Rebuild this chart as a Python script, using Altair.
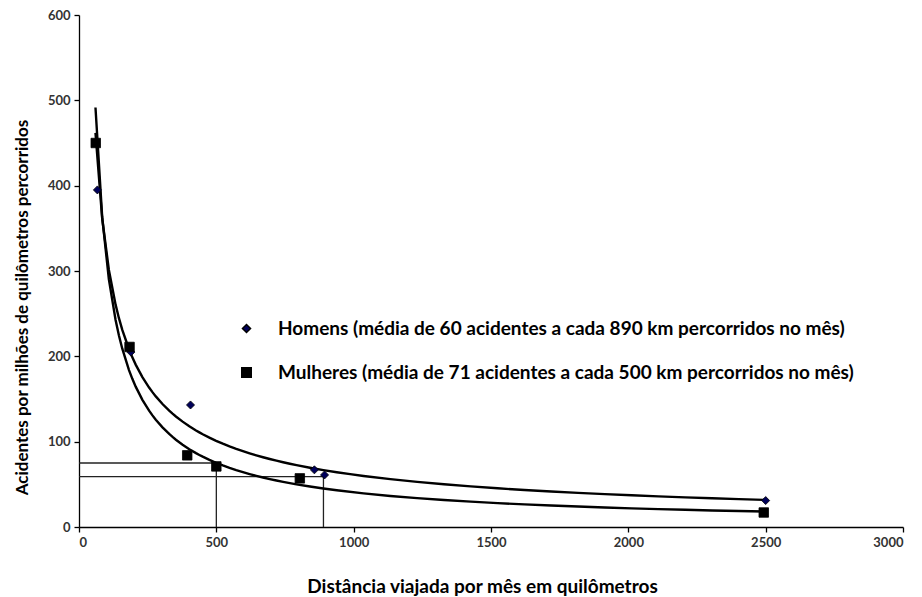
import altair as alt
import pandas as pd

# Data
homens_label = "Homens (média de 60 acidentes a cada 890 km percorridos no mês)"
mulheres_label = "Mulheres (média de 71 acidentes a cada 500 km percorridos no mês)"

homens_x = [67, 189, 406, 857, 894, 2500]
homens_y = [395, 205, 143, 67, 61, 31]
mulheres_x = [61, 184, 394, 500, 804, 2493]
mulheres_y = [450, 211, 84, 71, 57, 17]

# reference lines (horizontal and vertical guides)
h_y = [75, 59]
h_x2 = [500, 890]
v_x = [500, 890]
v_y2 = [71, 60]

x_ticks = [0, 500, 1000, 1500, 2000, 2500, 3000]
y_ticks = [0, 100, 200, 300, 400, 500, 600]

series = [homens_label, mulheres_label]

df = pd.concat([
    pd.DataFrame({"x": homens_x, "y": homens_y, "s": homens_label}),
    pd.DataFrame({"x": mulheres_x, "y": mulheres_y, "s": mulheres_label}),
])
hl = pd.DataFrame({"y": h_y, "x0": [0, 0], "x2": h_x2})
vl = pd.DataFrame({"x": v_x, "y0": [0, 0], "y2": v_y2})

FONT = "Lato"

xs = alt.Scale(domain=[0, 3000], nice=False)
ys = alt.Scale(domain=[0, 600], nice=False)

xax = alt.Axis(values=x_ticks, grid=False, format="d",
               title="Distância viajada por mês em quilômetros",
               titleX=403, titleY=50, titleFontSize=19)
yax = alt.Axis(values=y_ticks, grid=False, format="d",
               title="Acidentes por milhões de quilômetros percorridos",
               titleX=-48, titleY=292, titleFontSize=17)

curves = []
for lab in series:
    c = alt.Chart(df).transform_filter(alt.datum.s == lab).transform_regression(
        "x", "y", method="pow", extent=[60, 2500]
    ).mark_line(color="black", strokeWidth=2.4).encode(
        x=alt.X("x:Q", scale=xs, axis=xax),
        y=alt.Y("y:Q", scale=ys, axis=yax),
    )
    curves.append(c)

hrules = alt.Chart(hl).mark_rule(color="#222222", strokeWidth=1.3).encode(
    x=alt.X("x0:Q", scale=xs), x2="x2:Q", y=alt.Y("y:Q", scale=ys)
)
vrules = alt.Chart(vl).mark_rule(color="#222222", strokeWidth=1.3).encode(
    x=alt.X("x:Q", scale=xs), y=alt.Y("y0:Q", scale=ys), y2="y2:Q"
)

leg = alt.Legend(title=None, orient="none", legendX=158, legendY=304,
                 labelFontSize=19, labelFont=FONT, labelFontWeight="bold",
                 labelColor="black", labelLimit=800, rowPadding=24,
                 labelOffset=22, symbolStrokeColor="black")

points = alt.Chart(df).mark_point(filled=True, opacity=1, stroke="black", strokeWidth=0.8).encode(
    x=alt.X("x:Q", scale=xs),
    y=alt.Y("y:Q", scale=ys),
    shape=alt.Shape("s:N", scale=alt.Scale(domain=series, range=["diamond", "square"]), legend=leg),
    color=alt.Color("s:N", scale=alt.Scale(domain=series, range=["#00005a", "black"]), legend=leg),
    size=alt.Size("s:N", scale=alt.Scale(domain=series, range=[65, 90]), legend=leg),
)

chart = alt.layer(hrules, vrules, *curves, points).properties(
    width=824, height=512,
    autosize=alt.AutoSizeParams(type="none"),
    padding={"left": 71, "top": 7, "right": 11, "bottom": 70},
).configure_view(stroke=None).configure_axis(
    domainColor="black", domainWidth=1.3, tickColor="black", tickWidth=1.3, tickSize=5,
    labelFont=FONT, labelFontSize=13, labelFontWeight="bold", labelColor="#333333",
    titleFont=FONT, titleFontWeight="bold", titleColor="black",
    labelPadding=4,
)

chart.save("out.html", embed_options={"renderer": "svg", "actions": False})
